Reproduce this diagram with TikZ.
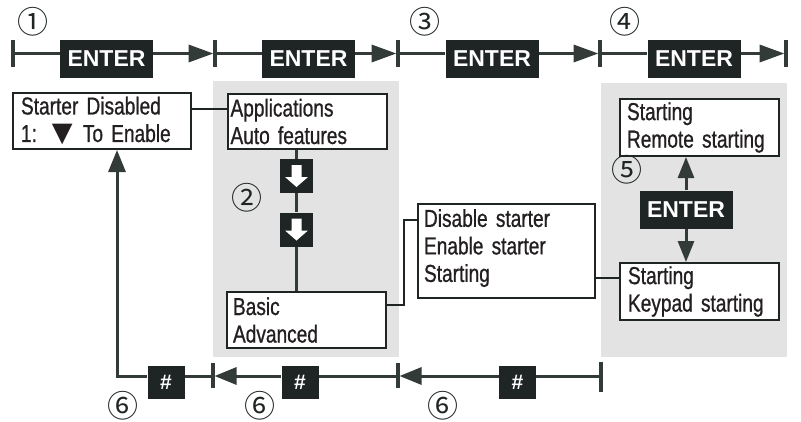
\documentclass[tikz,border=0pt]{standalone}
\usepackage{fontspec}
\setmainfont{Liberation Sans}
\newfontfamily\narrowfont[FakeStretch=0.78,FakeBold=0.8]{Liberation Sans}
\newfontfamily\symfont{DejaVu Sans}
\newfontfamily\cjk{Noto Sans CJK SC}
\usetikzlibrary{arrows.meta,calc}
\definecolor{ink}{HTML}{1E2524}
\definecolor{wire}{HTML}{333B39}
\definecolor{panel}{HTML}{E3E3E3}
\definecolor{txt}{HTML}{231F20}
\tikzset{
  menubox/.style={draw=ink, line width=2pt, fill=white, text=txt,
    font=\narrowfont\fontsize{24.5pt}{27.5pt}\selectfont, align=left, anchor=north west,
    inner xsep=6pt, inner ysep=0pt},
  keybox/.style={fill=ink, text=white, font=\bfseries\fontsize{23pt}{23pt}\selectfont,
    minimum width=93pt, minimum height=38pt, inner sep=0pt},
  hashbox/.style={fill=ink, text=white, font=\bfseries\fontsize{21pt}{21pt}\selectfont,
    minimum width=37pt, minimum height=33pt, inner sep=0pt},
  downbox/.style={fill=ink, minimum width=33pt, minimum height=34pt, inner sep=0pt},
  wirel/.style={draw=wire, line width=3.5pt},
  thin/.style={draw=ink, line width=2.5pt},
  tickl/.style={draw=wire, line width=4pt},
  tri/.style={-{Triangle[length=25pt,width=17pt]}},
  trib/.style={-{Triangle[length=22pt,width=17pt]}},
  tric/.style={-{Triangle[length=21pt,width=16pt]}},
  num/.style={text=ink, font=\cjk\fontsize{31pt}{31pt}\selectfont, inner sep=0pt},
}
\begin{document}
\begin{tikzpicture}[x=1pt,y=-1pt]
\useasboundingbox (0,0) rectangle (801,421);
% grey panels
\fill[panel] (213,81) rectangle (399,357);
\fill[panel] (601,83) rectangle (787,357);

% menu boxes
\node[menubox, inner xsep=8pt, text width=162pt, minimum height=56pt] (starter) at (12,92)
  {Starter Disabled\\1:\hspace{15pt}{\symfont\fontsize{27pt}{27pt}\selectfont ▼}\hspace{2pt} To Enable};
\node[menubox, inner xsep=2.5pt, text width=154pt, minimum height=55pt] (apps) at (227,93)
  {Applications\\Auto features};
\node[menubox, text width=147pt, minimum height=56pt] (basic) at (226,291)
  {Basic\\Advanced};
\node[menubox, text width=165pt, minimum height=94pt] (dis) at (417,203)
  {Disable starter\\Enable starter\\Starting\rule[-11pt]{0pt}{0pt}};
\node[menubox, inner xsep=7pt, text width=145pt, minimum height=57pt] (remote) at (619,98)
  {Starting\\Remote starting};
\node[menubox, inner xsep=8pt, text width=143pt, minimum height=57pt] (keypad) at (619,262)
  {Starting\\Keypad starting};

% down-arrow keys
\node[downbox] (d1) at (296.5,176) {};
\node[downbox] (d2) at (296.5,229.5) {};

% top row
\coordinate (t0) at (13,53.5);
\coordinate (t1) at (215,53.5);
\coordinate (t2) at (398,53.5);
\coordinate (t3) at (600,53.5);
\coordinate (t4) at (786,53.5);
\node[keybox] (e1) at (106.5,59) {ENTER};
\node[keybox] (e2) at (308.5,59) {ENTER};
\node[keybox] (e3) at (492,59) {ENTER};
\node[keybox] (e4) at (694,59) {ENTER};
\node[keybox] (e5) at (686,209.5) {ENTER};

% bottom row
\coordinate (b0) at (117,376);
\coordinate (b1) at (213,376);
\coordinate (b2) at (398,376);
\coordinate (b3) at (601,376);
\node[hashbox] (h1) at (166,382) {\#};
\node[hashbox] (h2) at (300,382) {\#};
\node[hashbox] (h3) at (517.5,382) {\#};

% connectors
\draw[wirel] (t0) -- (t0 -| e1.west);
\draw[wirel,tri,shorten >=1.5pt] (t0 -| e1.east) -- (t1);
\draw[wirel] (t1) -- (t1 -| e2.west);
\draw[wirel,tri,shorten >=1.5pt] (t1 -| e2.east) -- (t2);
\draw[wirel] (t2) -- (t2 -| e3.west);
\draw[wirel,tri,shorten >=1.5pt] (t2 -| e3.east) -- (t3);
\draw[wirel] (t3) -- (t3 -| e4.west);
\draw[wirel,tri,shorten >=1.5pt] (t3 -| e4.east) -- (t4);
\foreach \t in {t0,t1,t2,t3,t4}
  \draw[tickl] ([yshift=13.5pt]\t) -- ([yshift=-13.5pt]\t);

\draw[wirel,line width=3pt] (b3) -- (b3 -| h3.east);
\draw[wirel,line width=3pt,trib,shorten >=1.5pt] (b3 -| h3.west) -- (b2);
\draw[wirel,line width=3pt] (b2) -- (b2 -| h2.east);
\draw[wirel,line width=3pt,trib,shorten >=1.5pt] (b2 -| h2.west) -- (b1);
\draw[wirel,line width=3pt] (b1) -- (b1 -| h1.east);
\draw[wirel,line width=3pt,trib] (b1 -| h1.west) -- (b0) -- (b0 |- starter.south);
\draw[tickl] ([yshift=13pt]b1) -- ([yshift=-12pt]b1);
\draw[tickl] ([yshift=13pt]b2) -- ([yshift=-12pt]b2);
\draw[tickl] ([yshift=14pt]b3) -- ([yshift=-16pt]b3);

\draw[thin] ([yshift=12pt]starter.east) -- ([yshift=12pt]starter.east -| apps.west);
\draw[wirel,line width=3pt] (apps.south -| d1) -- (d1.north);
\draw[wirel,line width=3pt] (d1.south) -- (d2.north);
\draw[wirel,line width=3pt] (d2.south) -- (basic.north -| d2);
\draw[thin] ([yshift=15pt]basic.east) -- ++(17,0) |- ([yshift=31pt]dis.west);
\draw[thin] ([yshift=-27pt]dis.east) -- ([yshift=-27pt]dis.east -| keypad.west);
\draw[wirel,line width=3pt,tric] (e5.north) -- (e5.north |- remote.south);
\draw[wirel,line width=3pt,tric] (e5.south) -- (e5.south |- keypad.north);

% white arrows on the down keys
\foreach \d in {d1,d2}
  \fill[white, shift={(\d.center)}] (-5,-11) -- (5,-11) -- (5,1) -- (11.5,1) -- (0,11)
    -- (-11.5,1) -- (-5,1) -- cycle;

% step numbers
\node[num] (n1) at (33,22) {①};
\node[num] (n2) at (247,198) {②};
\node[num] (n3) at (425,22) {③};
\node[num] (n4) at (625,22) {④};
\node[num] (n5) at (627,170) {⑤};
\node[num] (n6a) at (123,406) {⑥};
\node[num] (n6b) at (260,406) {⑥};
\node[num] (n6c) at (443,406) {⑥};
\end{tikzpicture}
\end{document}
